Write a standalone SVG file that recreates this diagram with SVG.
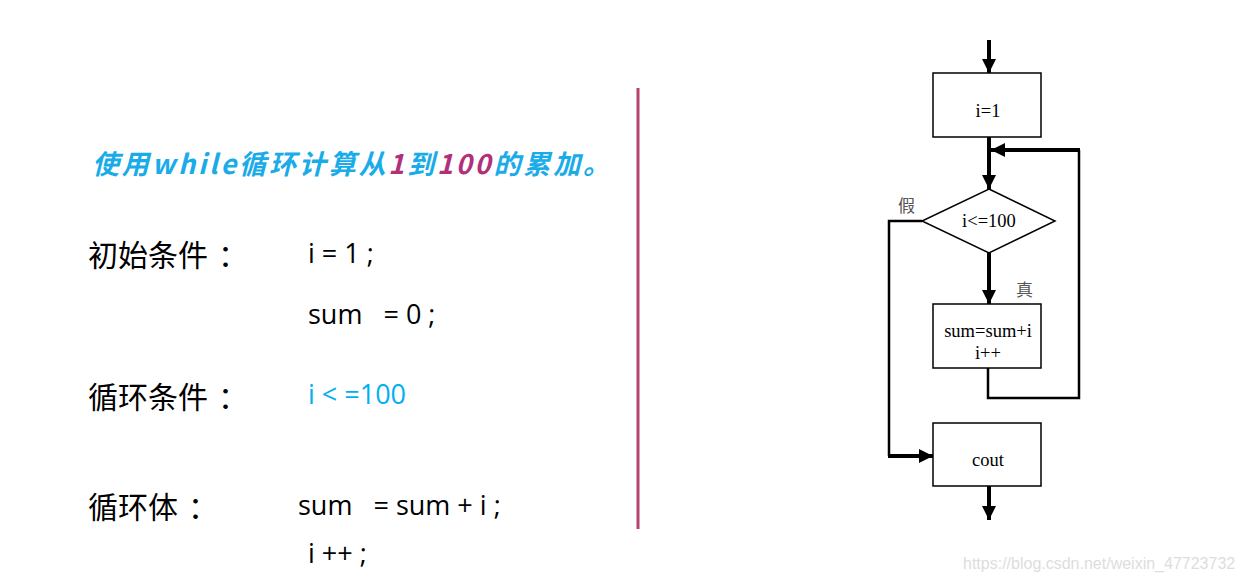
<svg xmlns="http://www.w3.org/2000/svg" width="1244" height="581" viewBox="0 0 1244 581">
<style>
.cn{font-family:"Noto Sans CJK SC","Liberation Sans",sans-serif;font-size:30px;fill:#000}
.code{font-family:"Open Sans","Liberation Sans",sans-serif;font-size:27px;fill:#000}
.fc{font-family:"Liberation Serif","Noto Sans CJK SC",serif;font-size:18.5px;fill:#000;text-anchor:middle}
.lbl{font-family:"Noto Sans CJK SC",serif;font-size:17px;fill:#555}
.box{fill:#fff;stroke:#000;stroke-width:1.5}
.thick{fill:none;stroke:#000;stroke-width:4}
.thin{fill:none;stroke:#000;stroke-width:2.5}
</style>
<defs>
<marker id="ah" markerWidth="14" markerHeight="14" refX="14" refY="7" orient="auto" markerUnits="userSpaceOnUse">
<path d="M0,0 L14,7 L0,14 Z" fill="#000"/>
</marker>
</defs>
<rect width="1244" height="581" fill="#fff"/>

<g id="title">
<text x="92" y="174" font-family="Noto Sans CJK SC, sans-serif" font-size="27" font-weight="bold" font-style="italic" fill="#1AACE8" textLength="518" lengthAdjust="spacing">使用while循环计算从<tspan fill="#B0307A">1</tspan>到<tspan fill="#B0307A">100</tspan>的累加。</text>
</g>

<g id="left-text">
<text class="cn" x="88" y="266">初始条件<tspan dx="10">：</tspan></text>
<text class="code" x="308" y="263" xml:space="preserve">i = 1 ;</text>
<text class="code" x="308" y="324" xml:space="preserve">sum   = 0 ;</text>
<text class="cn" x="88" y="408">循环条件<tspan dx="10">：</tspan></text>
<text class="code" x="308" y="404" style="fill:#00B0F0" xml:space="preserve">i &lt; =100</text>
<text class="cn" x="88" y="518">循环体<tspan dx="10">：</tspan></text>
<text class="code" x="298" y="515" xml:space="preserve">sum   = sum + i ;</text>
<text class="code" x="308" y="563" xml:space="preserve">i ++ ;</text>
</g>

<line id="divider" x1="638" y1="88" x2="638" y2="529" stroke="#B5416E" stroke-width="3"/>

<g id="connectors">
<line class="thick" x1="989" y1="40" x2="989" y2="73" marker-end="url(#ah)"/>
<line class="thick" x1="989" y1="137" x2="989" y2="189" marker-end="url(#ah)"/>
<line class="thick" x1="989" y1="253" x2="989" y2="304" marker-end="url(#ah)"/>
<polyline class="thin" points="988,368 988,398 1079,398 1079,150"/>
<line class="thick" x1="1080" y1="150" x2="991" y2="150" marker-end="url(#ah)"/>
<polyline class="thin" points="922,221 889,221 889,456"/>
<line class="thick" x1="888" y1="456" x2="933" y2="456" marker-end="url(#ah)"/>
<line class="thick" x1="989" y1="486" x2="989" y2="520" marker-end="url(#ah)"/>
</g>

<g id="node-init">
<rect class="box" x="933" y="73" width="108" height="64"/>
<text class="fc" x="988" y="117">i=1</text>
</g>

<g id="node-cond">
<polygon class="box" points="989,189 1055,221 989,253 922,221"/>
<text class="fc" x="989" y="227">i&lt;=100</text>
<text class="lbl" x="898" y="212">假</text>
<text class="lbl" x="1016" y="296">真</text>
</g>

<g id="node-body">
<rect class="box" x="933" y="304" width="108" height="64"/>
<text class="fc" x="988" y="337">sum=sum+i</text>
<text class="fc" x="988" y="359">i++</text>
</g>

<g id="node-cout">
<rect class="box" x="933" y="423" width="108" height="63"/>
<text class="fc" x="988" y="466">cout</text>
</g>

<text x="963" y="569" font-family="Liberation Sans, sans-serif" font-size="16" fill="#ddd">https://blog.csdn.net/weixin_47723732</text>
</svg>
